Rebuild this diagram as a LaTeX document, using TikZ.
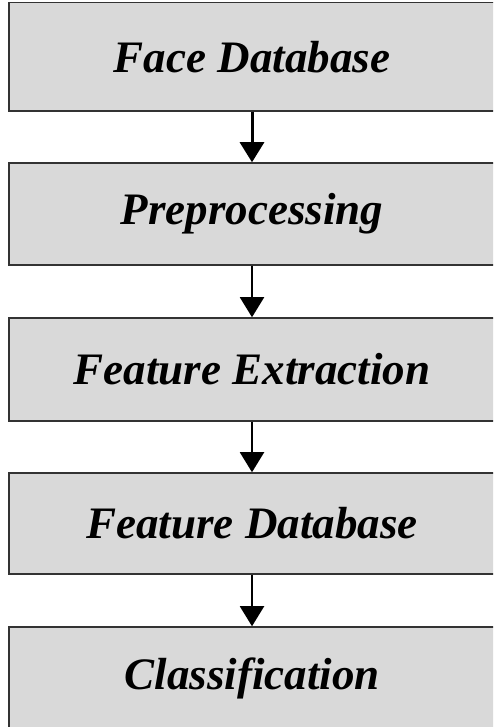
\documentclass[tikz,border=0pt]{standalone}
\usepackage{fontspec}
\setmainfont{Liberation Serif}
\usetikzlibrary{arrows.meta}
\begin{document}
\begin{tikzpicture}[x=1pt,y=1pt,
  stage/.style={draw=black!80, line width=1.5pt, fill={rgb,255:red,217;green,217;blue,217},
    minimum width=486pt, inner sep=0pt,
    font=\fontsize{45}{50}\selectfont\bfseries\itshape},
  flow/.style={line width=2pt, -{Triangle[width=24pt,length=20pt]}}]
\useasboundingbox (0,0) rectangle (493,727);
\clip (0,0) rectangle (493,727);
\node[stage, minimum height=108.5pt] (b1) at (252,670.25) {Face Database};
\node[stage, minimum height=102pt] (b2) at (252,513) {Preprocessing};
\node[stage, minimum height=103pt] (b3) at (252,357.5) {Feature Extraction};
\node[stage, minimum height=101pt] (b4) at (252,203.5) {Feature Database};
\node[stage, minimum height=103pt] (b5) at (252,48.5) {Classification};
\draw[flow, line width=3pt] (b1.south) -- (b2.north);
\draw[flow] (b2.south) -- (b3.north);
\draw[flow] (b3.south) -- (b4.north);
\draw[flow] (b4.south) -- (b5.north);
\end{tikzpicture}
\end{document}
